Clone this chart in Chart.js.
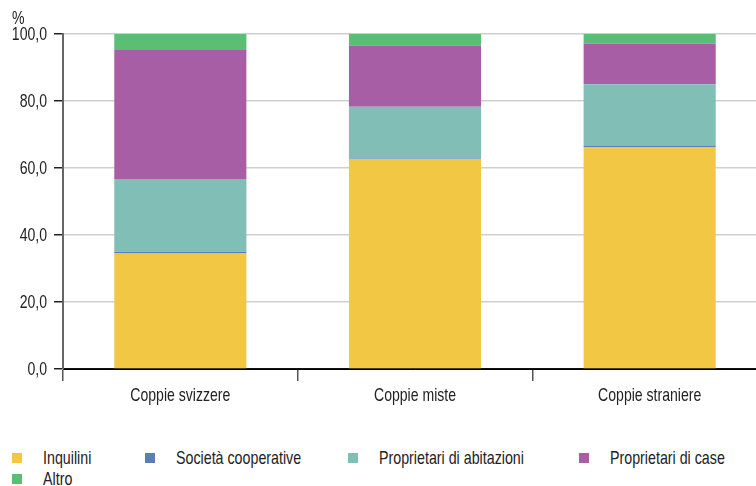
<!DOCTYPE html>
<html>
<head>
<meta charset="utf-8">
<script src="https://cdn.jsdelivr.net/npm/chart.js@4/dist/chart.umd.min.js"></script>
<style>
  html, body { margin: 0; padding: 0; background: #fff; overflow: hidden; }
  body { width: 756px; height: 486px; position: relative; font-family: 'Liberation Sans', Arial, sans-serif; }
  #wrap { position: absolute; left: 0; top: 0; width: 767px; height: 410px; }
  .item { position: absolute; height: 20px; font-size: 19px; color: #222; white-space: nowrap; }
  .box { position: absolute; left: 0; top: 5px; width: 10px; height: 10px; }
  .txt { position: absolute; left: 31px; top: 0; line-height: 20px; transform: scaleX(0.75); transform-origin: left center; }
</style>
</head>
<body>
<div id="wrap"><canvas id="abitazione"></canvas></div>
<div id="legend"></div>
<script>
const categorie = ['Coppie svizzere', 'Coppie miste', 'Coppie straniere'];
const inquilini = [34.5, 62.7, 66.3];
const cooperative = [0.5, 0.1, 0.3];
const propAbitazioni = [21.7, 15.5, 18.4];
const propCase = [38.5, 18.3, 12.2];
const altro = [4.8, 3.4, 2.8];
const yTicks = [0, 20, 40, 60, 80, 100];

const serie = [
  { label: 'Inquilini', data: inquilini, color: '#F2C744' },
  { label: 'Società cooperative', data: cooperative, color: '#5B7FB5' },
  { label: 'Proprietari di abitazioni', data: propAbitazioni, color: '#80BEB6' },
  { label: 'Proprietari di case', data: propCase, color: '#A85EA5' },
  { label: 'Altro', data: altro, color: '#5BBE72' }
];

const FONT = "19px 'Liberation Sans', Arial, sans-serif";
const NARROW = 0.74; // carattere condensato

function testoStretto(c, txt, x, y, align) {
  c.save();
  c.font = FONT;
  c.textBaseline = 'middle';
  const w = c.measureText(txt).width * NARROW;
  let x0 = x;
  if (align === 'center') x0 = x - w / 2;
  else if (align === 'right') x0 = x - w;
  c.translate(x0, y);
  c.scale(NARROW, 1);
  c.textAlign = 'left';
  c.fillText(txt, 0, 0);
  c.restore();
}

// etichette degli assi e simbolo dell'unità
const etichette = {
  id: 'etichette',
  afterDraw(chart) {
    const c = chart.ctx;
    const area = chart.chartArea;
    const xs = chart.scales.x, ys = chart.scales.y;
    c.fillStyle = '#222';
    yTicks.forEach(v => {
      testoStretto(c, v.toFixed(1).replace('.', ','), area.left - 16, ys.getPixelForValue(v) + 1, 'right');
    });
    categorie.forEach((lab, i) => {
      testoStretto(c, lab, xs.getPixelForTick(i), area.bottom + 27, 'center');
    });
    testoStretto(c, '%', 12, area.top - 15, 'left');
  }
};

new Chart(document.getElementById('abitazione').getContext('2d'), {
  type: 'bar',
  data: {
    labels: categorie,
    datasets: serie.map(s => ({
      label: s.label,
      data: s.data,
      backgroundColor: s.color,
      borderWidth: 0,
      barPercentage: 0.563,
      categoryPercentage: 1
    }))
  },
  options: {
    responsive: true,
    maintainAspectRatio: false,
    animation: false,
    layout: { padding: { top: 34, left: 54, right: 0, bottom: 29 } },
    plugins: {
      legend: { display: false },
      tooltip: { enabled: false }
    },
    scales: {
      x: {
        stacked: true,
        border: { color: '#000', width: 1 },
        grid: {
          offset: true,
          drawOnChartArea: false,
          tickLength: 12,
          tickColor: '#555',
          lineWidth: 1.5
        },
        ticks: { display: false }
      },
      y: {
        stacked: true,
        min: 0,
        max: 100,
        afterBuildTicks: axis => { axis.ticks = yTicks.map(v => ({ value: v })); },
        border: { color: '#666', width: 2 },
        grid: {
          color: ctx => (ctx.tick && ctx.tick.value === 0) ? '#111' : '#cfcfcf',
          lineWidth: 1.5,
          tickLength: 9,
          tickColor: '#222'
        },
        ticks: { display: false }
      }
    }
  },
  plugins: [etichette]
});

// legenda su due righe (centro verticale di ogni riga)
const posLegenda = [[12, 458], [145, 458], [348, 458], [579, 458], [12, 479]];
const legenda = document.getElementById('legend');
serie.forEach((s, i) => {
  const el = document.createElement('div');
  el.className = 'item';
  el.style.left = posLegenda[i][0] + 'px';
  el.style.top = (posLegenda[i][1] - 10) + 'px';
  el.innerHTML = '<span class="box" style="background:' + s.color + '"></span><span class="txt">' + s.label + '</span>';
  legenda.appendChild(el);
});
</script>
</body>
</html>
